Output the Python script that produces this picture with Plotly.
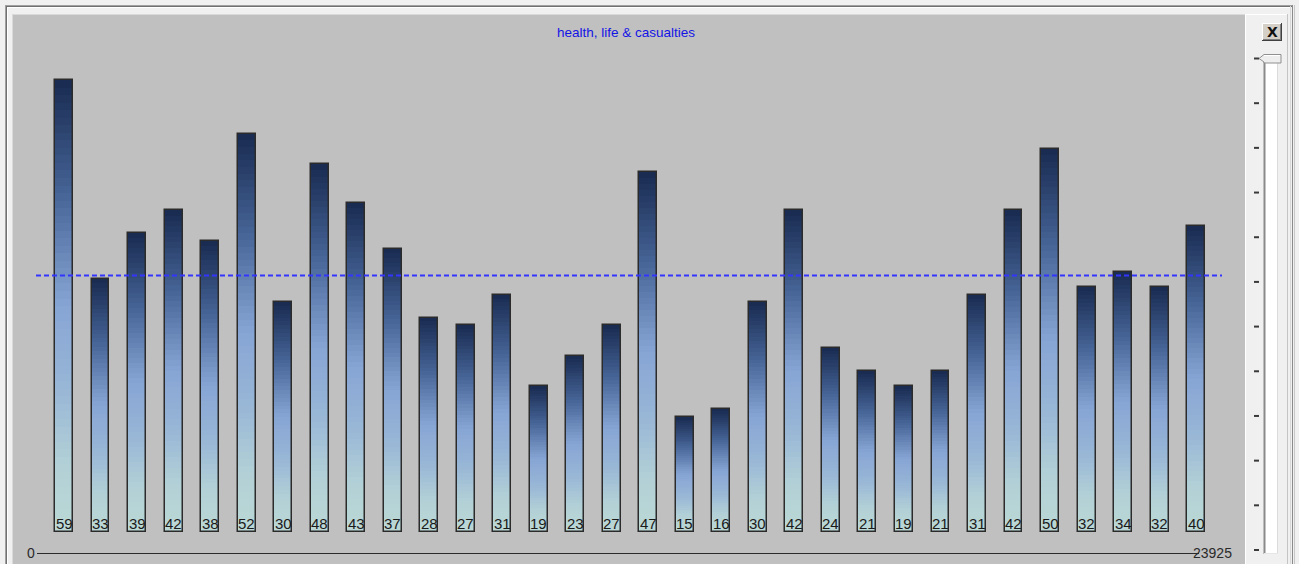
import plotly.graph_objects as go

# ---- data -------------------------------------------------------------
values = [59, 33, 39, 42, 38, 52, 30, 48, 43, 37, 28, 27, 31, 19, 23, 27,
          47, 15, 16, 30, 42, 24, 21, 19, 21, 31, 42, 50, 32, 34, 32, 40]
positions = list(range(len(values)))
title_text = "health, life & casualties"
axis_start_label = "0"
axis_end_label = "23925"

average = sum(values) / len(values)

# ---- canvas geometry (pixels) -----------------------------------------
W, H = 1299, 564
PLOT_L, PLOT_T, PLOT_R, PLOT_B = 13, 15, 1245, 564
PW, PH = PLOT_R - PLOT_L, PLOT_B - PLOT_T


def px(x):
    return (x - PLOT_L) / PW


def py(y):
    return (PLOT_B - y) / PH


# bar slot spacing and baseline
SLOT = 36.52
FIRST_CENTER = 64.0
ZERO_Y = 532.0
UNIT = 7.66

x_lo = -(FIRST_CENTER - PLOT_L) / SLOT
x_hi = x_lo + PW / SLOT
y_lo = -(PLOT_B - ZERO_Y) / UNIT
y_hi = y_lo + PH / UNIT

# ---- vertical gradient for the bars -----------------------------------
stops = [
    (0.00, (24, 42, 80)),
    (0.25, (70, 100, 150)),
    (0.50, (135, 165, 212)),
    (0.68, (152, 182, 214)),
    (0.85, (178, 208, 214)),
    (1.00, (188, 216, 214)),
]


def grad(t):
    for (t0, c0), (t1, c1) in zip(stops[:-1], stops[1:]):
        if t0 <= t <= t1:
            f = (t - t0) / (t1 - t0) if t1 > t0 else 0
            return "rgb(%d,%d,%d)" % tuple(round(a + (b - a) * f) for a, b in zip(c0, c1))
    return "rgb(%d,%d,%d)" % stops[-1][1]


N = 60
BAR_W = 0.49
fig = go.Figure()

for k in range(N):
    # k = 0 is the bottom slice
    t = 1 - (k + 0.5) / N
    fig.add_trace(go.Bar(
        x=positions,
        y=[v / N for v in values],
        base=[v * k / N for v in values],
        width=BAR_W,
        marker=dict(color=grad(t), line=dict(width=0)),
        hoverinfo="skip",
        showlegend=False,
    ))

# outline of each bar
fig.add_trace(go.Bar(
    x=positions, y=values, width=BAR_W,
    marker=dict(color="rgba(0,0,0,0)", line=dict(color="#2b2b2b", width=1.5)),
    hoverinfo="skip", showlegend=False,
))

# average line
fig.add_trace(go.Scatter(
    x=[x_lo + (36 - PLOT_L) / SLOT, x_lo + (1222 - PLOT_L) / SLOT],
    y=[average, average],
    mode="lines",
    line=dict(color="#3434ff", width=2, dash="5px,3px"),
    hoverinfo="skip", showlegend=False,
))

annotations = []
# value labels at the foot of each bar
for xv, v in zip(positions, values):
    annotations.append(dict(
        x=xv, y=0, xref="x", yref="y", text=str(v), showarrow=False,
        yanchor="bottom", yshift=-2,
        font=dict(family="Liberation Sans", size=15, color="#1a1a1a"),
    ))

# title
annotations.append(dict(
    x=px(626), y=py(32), xref="paper", yref="paper", text=title_text,
    showarrow=False, xanchor="center", yanchor="middle",
    font=dict(family="Liberation Sans", size=13.5, color="#1414e6"),
))

# bottom scale labels
annotations.append(dict(
    x=px(31), y=py(553), xref="paper", yref="paper", text=axis_start_label,
    showarrow=False, xanchor="center", yanchor="middle",
    font=dict(family="Liberation Sans", size=14, color="#2a2a2a"),
))
annotations.append(dict(
    x=px(1191), y=py(553), xref="paper", yref="paper", text=axis_end_label,
    showarrow=False, xanchor="left", yanchor="middle",
    font=dict(family="Liberation Sans", size=14, color="#2a2a2a"),
))

# close button glyph
annotations.append(dict(
    x=px(1272), y=py(32), xref="paper", yref="paper", text="<b>X</b>",
    showarrow=False, xanchor="center", yanchor="middle",
    font=dict(family="DejaVu Sans", size=14, color="#111111"),
))

shapes = []


def hline(x0, x1, y, color, w=1):
    shapes.append(dict(type="line", xref="paper", yref="paper",
                       x0=px(x0), x1=px(x1), y0=py(y), y1=py(y),
                       line=dict(color=color, width=w), layer="above"))


def vline(x, y0, y1, color, w=1):
    shapes.append(dict(type="line", xref="paper", yref="paper",
                       x0=px(x), x1=px(x), y0=py(y0), y1=py(y1),
                       line=dict(color=color, width=w), layer="above"))


def rect(x0, y0, x1, y1, fill, color="rgba(0,0,0,0)", w=0):
    shapes.append(dict(type="rect", xref="paper", yref="paper",
                       x0=px(x0), x1=px(x1), y0=py(y0), y1=py(y1),
                       fillcolor=fill, line=dict(color=color, width=w),
                       layer="above"))


# bottom scale line
hline(37, 1199, 553.5, "#2a2a2a", 1)

# window frame
hline(5, 1293, 5.5, "#a0a0a0")
hline(6, 1292, 6.5, "#707070")
hline(7, 1291, 7.5, "#ffffff")
vline(5.5, 5, H, "#a0a0a0")
vline(6.5, 6, H, "#707070")
vline(7.5, 7, H, "#ffffff")
vline(1290.5, 6, H, "#d8d8d8")
vline(1292.5, 5, H, "#8a8a8a")
vline(1294.5, 5, H, "#c8c8c8")

# inner bevel around the chart area
hline(12, 1245, 14.5, "#dadada")
vline(12.5, 14, H, "#dadada")
vline(1245.5, 14, H, "#ffffff")
hline(1245, 1288, 14.5, "#ffffff")
vline(1287.5, 14, H, "#c4c4c4")

# close button
rect(1262, 23, 1282, 41, "#d4d0c8")
hline(1262, 1282, 23.5, "#ffffff")
vline(1262.5, 23, 41, "#ffffff")
hline(1262, 1282, 40.5, "#404040")
vline(1281.5, 23, 41, "#404040")
hline(1263, 1281, 39.5, "#808080")
vline(1280.5, 24, 40, "#808080")

# slider track
rect(1265, 57, 1277, 553, "#ffffff")
vline(1264.5, 57, 554, "#8a8a8a", 2)
vline(1277.5, 57, 554, "#dcdcdc")
hline(1264, 1278, 553.5, "#e6e6e6")

# slider ticks
n_ticks = 12
for i in range(n_ticks):
    yy = 58.5 + i * (550 - 58.5) / (n_ticks - 1)
    hline(1254, 1259, yy, "#3a3a3a", 2)

# slider thumb
shapes.append(dict(
    type="path", xref="paper", yref="paper", layer="above",
    path="M %f %f L %f %f L %f %f L %f %f L %f %f L %f %f Z" % (
        px(1259), py(58.5), px(1264), py(54.5), px(1281), py(54.5),
        px(1281), py(63), px(1264), py(63), px(1264), py(62)),
    fillcolor="#eeeeee", line=dict(color="#909090", width=1)))
hline(1264, 1280, 55.5, "#ffffff")

fig.update_layout(
    width=W, height=H,
    margin=dict(l=PLOT_L, r=W - PLOT_R, t=PLOT_T, b=H - PLOT_B, pad=0, autoexpand=False),
    paper_bgcolor="#f0f0f0",
    plot_bgcolor="#c0c0c0",
    barmode="overlay",
    bargap=0,
    showlegend=False,
    xaxis=dict(range=[x_lo, x_hi], showgrid=False, zeroline=False,
               showticklabels=False, ticks="", showline=False, fixedrange=True),
    yaxis=dict(range=[y_lo, y_hi], showgrid=False, zeroline=False,
               showticklabels=False, ticks="", showline=False, fixedrange=True),
    annotations=annotations,
    shapes=shapes,
)

fig.write_html("out.html", config={"displayModeBar": False})
